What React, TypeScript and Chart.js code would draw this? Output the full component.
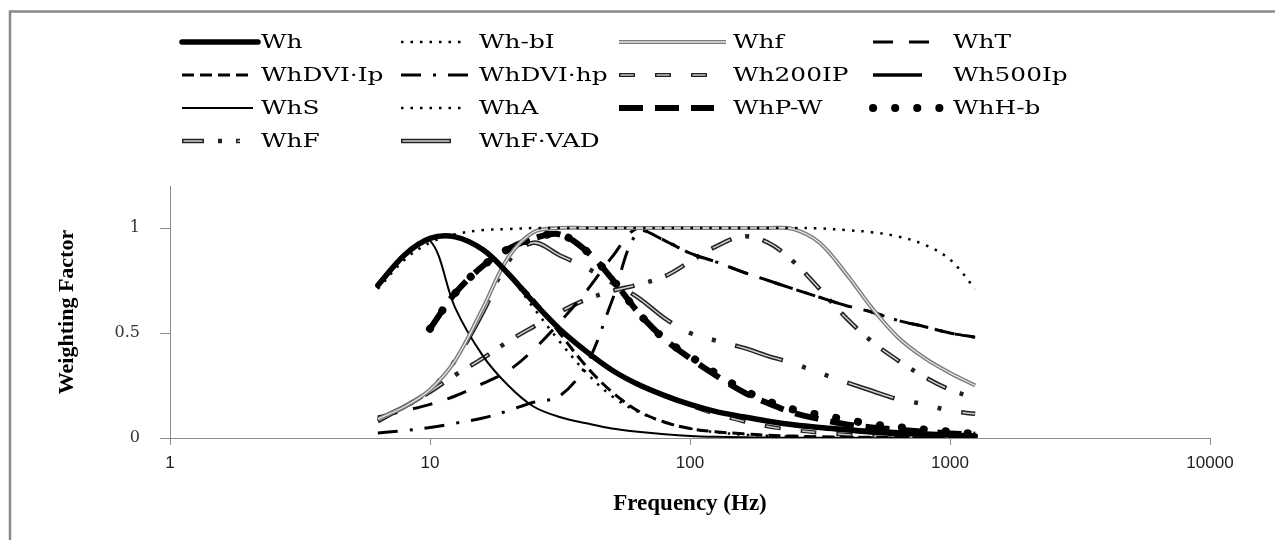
import { useEffect, useRef } from "react";
import { Chart, registerables } from "chart.js";

Chart.register(...registerables);

// One-third octave band centre frequencies (Hz)
const FREQ = [6.3, 8, 10, 12.5, 16, 20, 25, 31.5, 40, 50, 63, 80, 100, 125, 160, 200, 250, 315, 400, 500, 630, 800, 1000, 1250];

const X_TICKS = [1, 10, 100, 1000, 10000];
const Y_TICKS = [0, 0.5, 1];

const LABELS = ["Wh", "Wh-bI", "Whf", "WhT", "WhDVI·Ip", "WhDVI·hp", "Wh200IP", "Wh500Ip", "WhS", "WhA", "WhP-W", "WhH-b", "WhF", "WhF·VAD"];

const WH = [0.727, 0.873, 0.951, 0.958, 0.896, 0.782, 0.647, 0.519, 0.411, 0.324, 0.256, 0.202, 0.16, 0.127, 0.101, 0.08, 0.063, 0.05, 0.04, 0.031, 0.025, 0.019, 0.014, 0.009];
const WH_BL = [0.71, 0.85, 0.93, 0.97, 0.99, 0.995, 1, 1, 1, 1, 1, 1, 1, 1, 1, 1, 1, 0.998, 0.99, 0.98, 0.96, 0.92, 0.85, 0.71];
const WHF_FINGER = [0.09, 0.15, 0.23, 0.37, 0.62, 0.86, 0.98, 1, 1, 1, 1, 1, 1, 1, 1, 1, 0.995, 0.93, 0.78, 0.62, 0.48, 0.38, 0.31, 0.25];
const WHT = [0.1, 0.13, 0.16, 0.2, 0.26, 0.32, 0.42, 0.55, 0.7, 0.86, 1, 0.94, 0.88, 0.84, 0.79, 0.75, 0.71, 0.67, 0.63, 0.6, 0.56, 0.53, 0.5, 0.48];
const WHDVI_LP = [0.727, 0.873, 0.951, 0.958, 0.896, 0.782, 0.66, 0.5, 0.34, 0.22, 0.13, 0.075, 0.045, 0.03, 0.02, 0.013, 0.009, 0.006, 0.004, 0.003, 0.002, 0.001, 0.001, 0.001];
const WHDVI_HP = [0.024, 0.035, 0.05, 0.07, 0.095, 0.13, 0.17, 0.2, 0.35, 0.65, 0.98, 0.94, 0.88, 0.84, 0.79, 0.75, 0.71, 0.67, 0.63, 0.6, 0.56, 0.53, 0.5, 0.48];
const WH200LP = [0.727, 0.873, 0.951, 0.958, 0.896, 0.782, 0.647, 0.519, 0.411, 0.324, 0.256, 0.2, 0.155, 0.115, 0.08, 0.055, 0.038, 0.025, 0.016, 0.01, 0.006, 0.004, 0.002, 0.001];
const WH500LP = [0.727, 0.873, 0.951, 0.958, 0.896, 0.782, 0.647, 0.519, 0.411, 0.324, 0.256, 0.202, 0.16, 0.127, 0.101, 0.079, 0.061, 0.047, 0.035, 0.024, 0.015, 0.009, 0.005, 0.003];
const WHS = [0.727, 0.873, 0.94, 0.62, 0.39, 0.25, 0.15, 0.1, 0.07, 0.045, 0.03, 0.018, 0.01, 0.006, 0.004, 0.002, 0.001, 0.001, 0.001, 0.001, 0.001, 0.001, 0.001, 0.001];
const WHA = [0.727, 0.873, 0.951, 0.958, 0.896, 0.78, 0.62, 0.46, 0.31, 0.2, 0.125, 0.075, 0.045, 0.028, 0.016, 0.01, 0.006, 0.004, 0.003, 0.002, 0.001, 0.001, 0.001, 0.001];
const WHPW = [null, null, 0.52, 0.69, 0.82, 0.9, 0.95, 0.97, 0.89, 0.76, 0.6, 0.47, 0.38, 0.3, 0.22, 0.165, 0.12, 0.09, 0.065, 0.05, 0.04, 0.03, 0.022, 0.016];
const WHHB = [null, null, 0.52, 0.69, 0.82, 0.9, 0.95, 0.97, 0.89, 0.76, 0.6, 0.47, 0.39, 0.31, 0.23, 0.175, 0.135, 0.11, 0.087, 0.066, 0.052, 0.04, 0.03, 0.02];
const WHF = [0.08, 0.15, 0.22, 0.3, 0.38, 0.46, 0.53, 0.6, 0.66, 0.7, 0.73, 0.77, 0.84, 0.91, 0.96, 0.93, 0.84, 0.71, 0.57, 0.46, 0.37, 0.29, 0.23, 0.19];
const WHF_VAD = [0.09, 0.15, 0.23, 0.37, 0.6, 0.84, 0.93, 0.87, 0.81, 0.74, 0.67, 0.57, 0.5, 0.465, 0.43, 0.39, 0.355, 0.31, 0.265, 0.225, 0.185, 0.16, 0.13, 0.115];

const SERIES: (number | null)[][] = [WH, WH_BL, WHF_FINGER, WHT, WHDVI_LP, WHDVI_HP, WH200LP, WH500LP, WHS, WHA, WHPW, WHHB, WHF, WHF_VAD];

type LineStyle = {
  color: string;
  width: number;
  dash: number[];
  cap?: CanvasLineCap;
  inner?: { color: string; width: number; dash: number[]; offset: number };
};

const STYLES: LineStyle[] = [
  { color: "#000", width: 5.5, dash: [], cap: "round" },
  { color: "#000", width: 2.5, dash: [2.5, 7] },
  { color: "#7a7a7a", width: 4, dash: [], inner: { color: "#e6e6e6", width: 1.3, dash: [], offset: 0 } },
  { color: "#000", width: 3, dash: [20, 16] },
  { color: "#000", width: 3, dash: [12, 6] },
  { color: "#000", width: 3, dash: [20, 12, 3, 12] },
  { color: "#222", width: 4, dash: [16, 20], inner: { color: "#c4c4c4", width: 1.5, dash: [13, 23], offset: -1.5 } },
  { color: "#000", width: 3.5, dash: [] },
  { color: "#000", width: 2, dash: [] },
  { color: "#000", width: 2.5, dash: [2.5, 7] },
  { color: "#000", width: 6, dash: [24, 12] },
  { color: "#000", width: 8, dash: [0.1, 22], cap: "round" },
  { color: "#222", width: 4.5, dash: [22, 14, 4, 14], inner: { color: "#d0d0d0", width: 1.5, dash: [19, 35], offset: -1.5 } },
  { color: "#222", width: 4.5, dash: [50, 20, 4, 20, 4, 20], inner: { color: "#d0d0d0", width: 1.5, dash: [47, 71], offset: -1.5 } },
];

// Legend grid layout (Excel style, 4 columns)
const LEGEND_ROW_Y = [42, 75, 108, 141];
const LEGEND_SAMPLE_X = [182, 401, 619, 873];
const LEGEND_TEXT_X = [261, 479, 733, 953];
const LEGEND_SAMPLE_W = [76, 61, 107, 57, 71, 73, 90, 49, 71, 61, 95, 69, 58, 51];

function strokeSample(ctx: CanvasRenderingContext2D, x0: number, x1: number, y: number, st: LineStyle) {
  ctx.save();
  ctx.lineCap = st.cap || "butt";
  ctx.setLineDash(st.dash);
  ctx.strokeStyle = st.color;
  ctx.lineWidth = st.width;
  ctx.beginPath();
  ctx.moveTo(x0, y);
  ctx.lineTo(x1, y);
  ctx.stroke();
  if (st.inner) {
    ctx.setLineDash(st.inner.dash);
    ctx.lineDashOffset = st.inner.offset;
    ctx.strokeStyle = st.inner.color;
    ctx.lineWidth = st.inner.width;
    ctx.beginPath();
    ctx.moveTo(x0, y);
    ctx.lineTo(x1, y);
    ctx.stroke();
  }
  ctx.restore();
}

const framePlugin = {
  id: "frame",
  beforeDraw(chart: any) {
    const ctx: CanvasRenderingContext2D = chart.ctx;
    ctx.save();
    ctx.fillStyle = "#fff";
    ctx.fillRect(0, 0, chart.width, chart.height);
    ctx.strokeStyle = "#8a8a8a";
    ctx.lineWidth = 2.5;
    ctx.beginPath();
    ctx.moveTo(10, chart.height);
    ctx.lineTo(10, 11.5);
    ctx.lineTo(chart.width, 11.5);
    ctx.stroke();
    ctx.restore();
  },
};

const gridLegendPlugin = {
  id: "gridLegend",
  afterDraw(chart: any) {
    const ctx: CanvasRenderingContext2D = chart.ctx;
    LABELS.forEach((label, i) => {
      const col = i % 4;
      const row = Math.floor(i / 4);
      const y = LEGEND_ROW_Y[row];
      const x0 = LEGEND_SAMPLE_X[col];
      strokeSample(ctx, x0, x0 + LEGEND_SAMPLE_W[i], y, STYLES[i]);
      ctx.save();
      ctx.font = '18px "DejaVu Serif"';
      ctx.fillStyle = "#000";
      ctx.textBaseline = "middle";
      ctx.translate(LEGEND_TEXT_X[col], y + 1);
      ctx.scale(1.38, 1);
      ctx.fillText(label, 0, 0);
      ctx.restore();
    });
  },
};

function buildDatasets() {
  const sets: any[] = [];
  SERIES.forEach((vals, i) => {
    const st = STYLES[i];
    const pts = FREQ.map((f, k) => ({ x: f, y: vals[k] })).filter((p) => p.y !== null);
    const base = {
      data: pts,
      pointRadius: 0,
      fill: false,
      tension: 0.35,
      borderCapStyle: st.cap || "butt",
      borderJoinStyle: "round",
    };
    if (st.inner) {
      sets.push({
        ...base,
        label: "_" + LABELS[i],
        borderColor: st.inner.color,
        borderWidth: st.inner.width,
        borderDash: st.inner.dash,
        borderDashOffset: st.inner.offset,
      });
    }
    sets.push({ ...base, label: LABELS[i], borderColor: st.color, borderWidth: st.width, borderDash: st.dash });
  });
  return sets;
}

const AXIS_GRAY = "#8c8c8c";

export default function App() {
  const ref = useRef<HTMLCanvasElement>(null);
  useEffect(() => {
    const chart = new Chart(ref.current as HTMLCanvasElement, {
      type: "line",
      data: { datasets: buildDatasets() },
      options: {
        animation: false,
        responsive: true,
        maintainAspectRatio: false,
        devicePixelRatio: 1,
        layout: { padding: { left: 0, top: 186, right: 65, bottom: 0 } },
        plugins: { legend: { display: false }, tooltip: { enabled: false } },
        scales: {
          x: {
            type: "logarithmic",
            min: 1,
            max: 10000,
            afterBuildTicks: (s: any) => {
              s.ticks = X_TICKS.map((v) => ({ value: v }));
            },
            afterFit: (s: any) => {
              s.height = 102;
            },
            ticks: {
              callback: (v: any) => String(v),
              autoSkip: false,
              maxRotation: 0,
              padding: 8,
              color: "#222",
              font: { family: "'Liberation Sans', Arial, sans-serif", size: 17 },
            },
            grid: { drawOnChartArea: false, drawTicks: true, tickLength: 7, color: AXIS_GRAY },
            border: { color: AXIS_GRAY, width: 1 },
            title: {
              display: true,
              text: "Frequency (Hz)",
              color: "#000",
              font: { family: "'Liberation Serif', 'Times New Roman', serif", size: 23, weight: "bold" },
              padding: { top: 0, bottom: 22 },
            },
          },
          y: {
            type: "linear",
            min: 0,
            max: 1.2,
            afterBuildTicks: (s: any) => {
              s.ticks = Y_TICKS.map((v) => ({ value: v }));
            },
            afterFit: (s: any) => {
              s.width = 170;
            },
            ticks: {
              callback: (v: any) => String(v),
              padding: 20,
              color: "#333",
              font: { family: "'DejaVu Serif', serif", size: 16 },
            },
            grid: { drawOnChartArea: false, drawTicks: true, tickLength: 10, color: AXIS_GRAY },
            border: { color: AXIS_GRAY, width: 1 },
            title: {
              display: true,
              text: "Weighting Factor",
              color: "#000",
              font: { family: "'Liberation Serif', 'Times New Roman', serif", size: 22, weight: "bold" },
              padding: { top: 54, bottom: 0 },
            },
          },
        },
      },
      plugins: [framePlugin, gridLegendPlugin],
    } as any);
    return () => chart.destroy();
  }, []);
  return (
    <div style={{ position: "fixed", left: 0, top: 0, width: 1275, height: 540, background: "#fff" }}>
      <canvas ref={ref} />
    </div>
  );
}
